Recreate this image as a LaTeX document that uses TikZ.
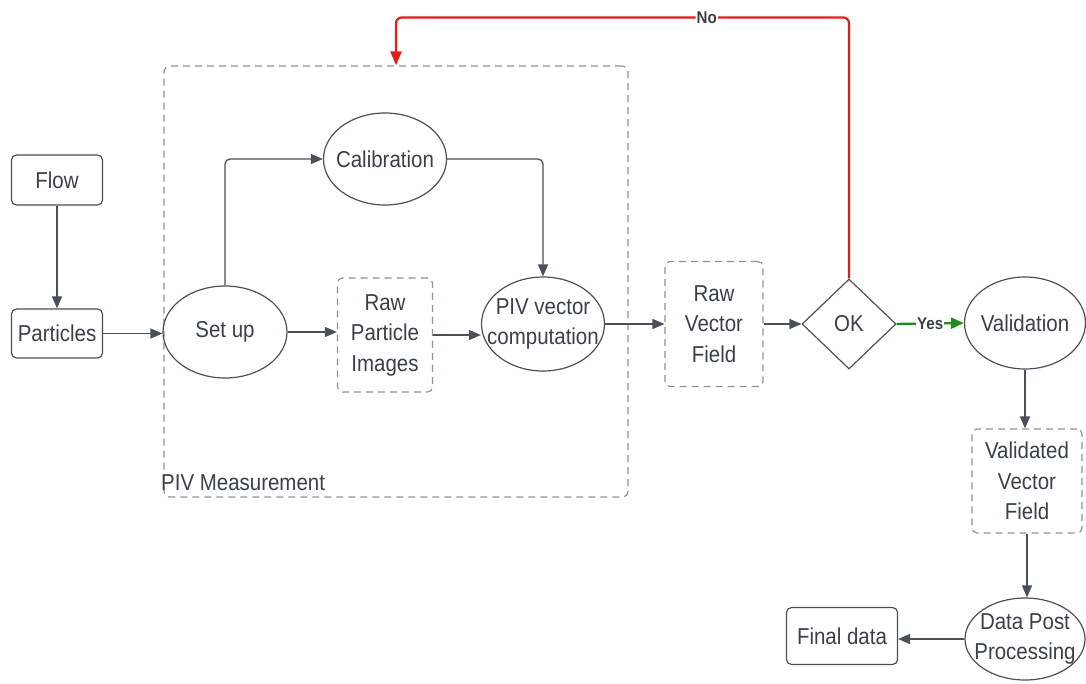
\documentclass[tikz,border=0pt]{standalone}
\usepackage{fontspec}
\setmainfont{Liberation Sans}[FakeStretch=0.89]
\usepackage{tikz}
\usetikzlibrary{shapes.geometric, arrows.meta, positioning}
\definecolor{txtgray}{HTML}{3A3F48}
\definecolor{linegray}{HTML}{4A5059}
\definecolor{dashgray}{HTML}{8D9299}
\definecolor{nored}{HTML}{E21B1B}
\definecolor{yesgreen}{HTML}{1E8C1E}
\tikzset{
	flowtext/.style={font=\fontsize{23}{30.5}\selectfont\color{txtgray}}
}
\tikzset{
	tagtext/.style={font=\fontsize{17}{19}\selectfont\bfseries\color{txtgray}, fill=white, inner sep=1pt}
}
\tikzset{
	roundbox/.style={flowtext, draw=linegray, line width=1.2pt, rounded corners=5pt, align=center, inner sep=0pt},
	dashbox/.style={roundbox, draw=dashgray, dash pattern=on 7pt off 5pt},
	oval/.style={draw=linegray, line width=1.2pt, ellipse, inner sep=0pt},
	ovaltext/.style={flowtext, align=center, inner sep=0pt},
	flowarrow/.style={-{Triangle[length=12pt,width=10pt]}, line width=1.3pt, draw=linegray}
}
\newcommand{\ovalnode}[5]{%
  \node[oval, minimum width=#3, minimum height=#4, label={[ovaltext]center:#5}] (#1) at (#2) {};
}

\begin{document}
\begin{tikzpicture}[x=1pt, y=-1pt]
      \useasboundingbox (0,0) rectangle (1086,683);
      % measurement frame
      \node[dashbox, rounded corners=6pt, minimum width=464pt, minimum height=431pt] (pivbox) at (396,281.5) {};
      \node[flowtext, anchor=west, inner sep=0pt] (pivlabel) at (161,483) {PIV Measurement};
      % boxes
      \node[roundbox, minimum width=91pt, minimum height=50pt] (flow) at (57,180) {Flow};
      \node[roundbox, minimum width=91pt, minimum height=49pt] (particles) at (57,333.5) {Particles};
      \node[dashbox, minimum width=95pt, minimum height=114pt] (rawimg) at (385,335) {Raw\\Particle\\Images};
      \node[dashbox, minimum width=98pt, minimum height=125pt] (rawvec) at (714,324) {Raw\\Vector\\Field};
      \node[dashbox, minimum width=110pt, minimum height=104pt] (validvec) at (1027,481) {Validated\\Vector\\Field};
      \node[roundbox, minimum width=111pt, minimum height=57pt] (final) at (842,636) {Final data};
      \node[flowtext, draw=linegray, line width=1.2pt, diamond, inner sep=0pt,
            minimum width=94pt, minimum height=90pt] (ok) at (849,324) {OK};
      % ovals
      \ovalnode{setup}{225,332}{124pt}{92pt}{Set up}
      \ovalnode{calib}{385,159}{123pt}{92pt}{Calibration}
      \ovalnode{pivcomp}{543,324}{123pt}{94pt}{PIV vector\\computation}
      \ovalnode{valid}{1025,323}{121pt}{92pt}{Validation}
      \ovalnode{post}{1025,639}{120pt}{82pt}{Data Post\\Processing}
      % connectors
      \draw[flowarrow] (flow.south) -- (particles.north);
      \draw[flowarrow] (particles.east) -- (particles.east -| setup.west);
      \draw[flowarrow, rounded corners=5pt] (setup.north) |- (calib.west);
      \draw[flowarrow, rounded corners=5pt] (calib.east) -| (pivcomp.north);
      \draw[flowarrow] (setup.east) -- (setup.east -| rawimg.west);
      \draw[flowarrow] (rawimg.east) -- (rawimg.east -| pivcomp.west);
      \draw[flowarrow] (pivcomp.east) -- (rawvec.west);
      \draw[flowarrow] (rawvec.east) -- (ok.west);
      \draw[flowarrow, draw=yesgreen, line width=2.4pt, -{Triangle[length=13pt,width=11pt]}]
        (ok.east) -- node[tagtext] {Yes} (valid.west);
      \draw[flowarrow, draw=nored, line width=2.2pt, rounded corners=6pt, -{Triangle[length=14pt,width=11pt]}]
        (ok.north) |- node[tagtext, pos=0.657] {No} ([yshift=48pt]pivbox.north) -- (pivbox.north);
      \draw[flowarrow] (valid.south) -- (valid.south |- validvec.north);
      \draw[flowarrow] (validvec.south) -- (validvec.south |- post.north);
      \draw[flowarrow] (post.west) -- (post.west -| final.east);
    \end{tikzpicture}
\end{document}
